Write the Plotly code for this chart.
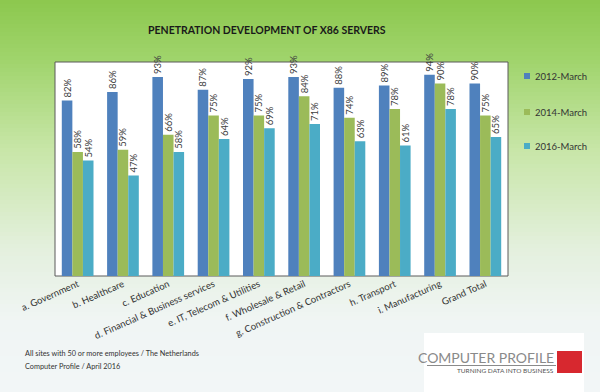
import plotly.graph_objects as go

categories = ["a. Government", "b. Healthcare", "c. Education",
              "d. Financial & Business services", "e. IT, Telecom & Utilities",
              "f. Wholesale & Retail", "g. Construction & Contractors",
              "h. Transport", "i. Manufacturing", "Grand Total"]
series_names = ["2012-March", "2014-March", "2016-March"]
v2012 = [82, 86, 93, 87, 92, 93, 88, 89, 94, 90]
v2014 = [58, 59, 66, 75, 75, 84, 74, 78, 90, 75]
v2016 = [54, 47, 58, 64, 69, 71, 63, 61, 78, 65]
colors = ["#4f81bd", "#9bbb59", "#4bacc6"]

FONT = "Lato"
fig = go.Figure()
for i, (name, vals) in enumerate(zip(series_names, [v2012, v2014, v2016])):
    fig.add_trace(go.Bar(
        x=categories, y=vals, name=name, marker_color=colors[i],
        marker_line_width=0,
        text=[f"{v}%" for v in vals], textposition="outside", textangle=-90,
        textfont=dict(family=FONT, size=9.5, color="#404040"),
        constraintext="none", cliponaxis=False,
        showlegend=False,
    ))

W, H = 600, 392
ml, mr, mt, mb = 55, 92, 62, 116

# gradient background bands (paper coords)
stops = [(0, (140, 200, 78)), (60, (160, 212, 108)), (150, (200, 230, 168)),
         (250, (228, 240, 222)), (320, (240, 245, 244)), (392, (242, 246, 247))]
def col_at(y):
    for (y0, c0), (y1, c1) in zip(stops[:-1], stops[1:]):
        if y0 <= y <= y1:
            t = (y - y0) / (y1 - y0)
            return tuple(int(round(a + (b - a) * t)) for a, b in zip(c0, c1))
    return stops[-1][1]

ph = H - mt - mb
pw = W - ml - mr
def py(y):  # pixel y -> paper y
    return (H - mb - y) / ph
def px(x):
    return (x - ml) / pw

shapes = []
step = 4
for y in range(0, H, step):
    c = col_at(y + step / 2)
    shapes.append(dict(type="rect", xref="paper", yref="paper",
                       x0=px(-2), x1=px(W + 2), y0=py(y + step + 0.5), y1=py(y),
                       fillcolor=f"rgb{c}", line_width=0, layer="below"))
# plot area white
shapes.append(dict(type="rect", xref="paper", yref="paper", x0=0, x1=1, y0=0, y1=1,
                   fillcolor="white", line=dict(color="#5a5a5a", width=1), layer="below"))
# logo box
shapes.append(dict(type="rect", xref="paper", yref="paper",
                   x0=px(424), x1=px(584), y0=py(392), y1=py(333),
                   fillcolor="white", line_width=0, layer="below"))
shapes.append(dict(type="rect", xref="paper", yref="paper",
                   x0=px(557), x1=px(582), y0=py(373), y1=py(351),
                   fillcolor="#d7282f", line_width=0))
shapes.append(dict(type="line", xref="paper", yref="paper",
                   x0=px(427), x1=px(556), y0=py(365.5), y1=py(365.5),
                   line=dict(color="#8a8a8a", width=1)))

annotations = [
    dict(text="<b>PENETRATION DEVELOPMENT OF X86 SERVERS</b>", xref="paper", yref="paper",
         x=px(267), y=py(30), xanchor="center", yanchor="middle", showarrow=False,
         font=dict(family=FONT, size=10.5, color="#1a1a1a")),
    dict(text="All sites with 50 or more employees / The Netherlands", xref="paper", yref="paper",
         x=px(23), y=py(353), xanchor="left", yanchor="middle", showarrow=False,
         font=dict(family=FONT, size=7.3, color="#333333")),
    dict(text="Computer Profile / April 2016", xref="paper", yref="paper",
         x=px(23), y=py(366), xanchor="left", yanchor="middle", showarrow=False,
         font=dict(family=FONT, size=7.3, color="#333333")),
    dict(text="COMPUTER PROFILE", xref="paper", yref="paper",
         x=px(556), y=py(357), xanchor="right", yanchor="middle", showarrow=False,
         font=dict(family="Liberation Sans Narrow, Arial Narrow, Lato", size=14, color="#8a8a8a")),
    dict(text="TURNING DATA INTO BUSINESS", xref="paper", yref="paper",
         x=px(556), y=py(370), xanchor="right", yanchor="middle", showarrow=False,
         font=dict(family="Liberation Sans Narrow, Arial Narrow, Lato", size=6.5, color="#555555")),
]

# manual legend (small squares + labels)
legend_y = [76, 112, 146]
for name, col, ly in zip(series_names, colors, legend_y):
    shapes.append(dict(type="rect", xref="paper", yref="paper",
                       x0=px(524), x1=px(530), y0=py(ly + 3), y1=py(ly - 3),
                       fillcolor=col, line_width=0))
    annotations.append(dict(text=name, xref="paper", yref="paper",
                            x=px(533), y=py(ly), xanchor="left", yanchor="middle",
                            showarrow=False,
                            font=dict(family=FONT, size=9.5, color="#333333")))

fig.update_layout(
    width=W, height=H, margin=dict(l=ml, r=mr, t=mt, b=mb, pad=0),
    paper_bgcolor="#f2f6f7", plot_bgcolor="rgba(0,0,0,0)",
    barmode="group", bargap=0.30, bargroupgap=0,
    font=dict(family=FONT, size=10, color="#333333"),
    shapes=shapes, annotations=annotations,
    showlegend=False,
)
fig.update_xaxes(tickangle=-24, tickfont=dict(family=FONT, size=9.5, color="#333333"),
                 showline=False, ticks="", showgrid=False, automargin=False)
fig.update_yaxes(range=[0, 100], visible=False, showgrid=False, automargin=False)

fig.write_html("out.html", config={"displayModeBar": False},
               post_script="document.body.style.margin='0px';document.body.style.overflow='hidden';")
